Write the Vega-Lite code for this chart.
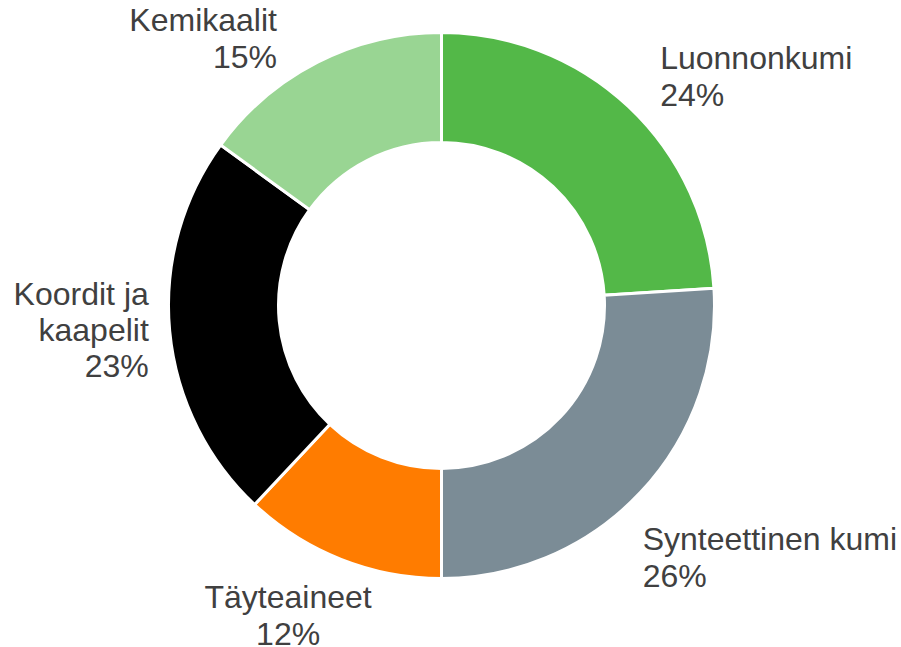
{
  "$schema": "https://vega.github.io/schema/vega-lite/v6.json",
  "width": 883,
  "height": 611,
  "autosize": {"type": "none"},
  "padding": {"left": 0, "right": 18, "top": 0, "bottom": 36},
  "background": "white",
  "config": {"view": {"stroke": null}},
  "data": {
    "values": [
      {"cat": "Luonnonkumi", "value": 24, "order": 1, "label": ["Luonnonkumi", "24%"]},
      {"cat": "Synteettinen kumi", "value": 26, "order": 2, "label": ["Synteettinen kumi", "26%"]},
      {"cat": "Täyteaineet", "value": 12, "order": 3, "label": ["Täyteaineet", "12%"]},
      {"cat": "Koordit ja kaapelit", "value": 23, "order": 4, "label": ["Koordit ja", "kaapelit", "23%"]},
      {"cat": "Kemikaalit", "value": 15, "order": 5, "label": ["Kemikaalit", "15%"]}
    ]
  },
  "transform": [
    {"window": [{"op": "sum", "field": "value", "as": "cum"}], "sort": [{"field": "order"}], "frame": [null, 0]},
    {"calculate": "datum.cum - datum.value / 2", "as": "mid"}
  ],
  "layer": [
    {
      "mark": {"type": "arc", "outerRadius": 273, "innerRadius": 163, "stroke": "white", "strokeWidth": 3},
      "encoding": {
        "theta": {"field": "value", "type": "quantitative", "stack": true, "scale": {"domain": [0, 100]}},
        "order": {"field": "order", "type": "quantitative"},
        "color": {
          "field": "cat", "type": "nominal", "legend": null,
          "scale": {
            "domain": ["Luonnonkumi", "Synteettinen kumi", "Täyteaineet", "Koordit ja kaapelit", "Kemikaalit"],
            "range": ["#53B848", "#7B8C96", "#FF7C00", "#000000", "#99D593"]
          }
        }
      }
    },
    {
      "transform": [{"filter": "datum.cat == 'Luonnonkumi'"}],
      "mark": {"type": "text", "radius": 318, "dx": 1, "dy": -15, "align": "left", "baseline": "middle", "font": "Liberation Sans", "fontSize": 32, "lineHeight": 37, "color": "#404040"},
      "encoding": {"theta": {"field": "mid", "type": "quantitative", "stack": null}, "text": {"field": "label"}}
    },
    {
      "transform": [{"filter": "datum.cat == 'Synteettinen kumi'"}],
      "mark": {"type": "text", "radius": 324, "dx": -35, "dy": 13, "align": "left", "baseline": "middle", "font": "Liberation Sans", "fontSize": 32, "lineHeight": 37, "color": "#404040"},
      "encoding": {"theta": {"field": "mid", "type": "quantitative", "stack": null}, "text": {"field": "label"}}
    },
    {
      "transform": [{"filter": "datum.cat == 'Täyteaineet'"}],
      "mark": {"type": "text", "radius": 346, "dx": -26, "dy": -29, "align": "center", "baseline": "middle", "font": "Liberation Sans", "fontSize": 32, "lineHeight": 37, "color": "#404040"},
      "encoding": {"theta": {"field": "mid", "type": "quantitative", "stack": null}, "text": {"field": "label"}}
    },
    {
      "transform": [{"filter": "datum.cat == 'Koordit ja kaapelit'"}],
      "mark": {"type": "text", "radius": 294, "dy": -38, "align": "right", "baseline": "middle", "font": "Liberation Sans", "fontSize": 32, "lineHeight": 36, "color": "#404040"},
      "encoding": {"theta": {"field": "mid", "type": "quantitative", "stack": null}, "text": {"field": "label"}}
    },
    {
      "transform": [{"filter": "datum.cat == 'Kemikaalit'"}],
      "mark": {"type": "text", "radius": 314, "dx": -22, "dy": -5, "align": "right", "baseline": "middle", "font": "Liberation Sans", "fontSize": 32, "lineHeight": 37, "color": "#404040"},
      "encoding": {"theta": {"field": "mid", "type": "quantitative", "stack": null}, "text": {"field": "label"}}
    }
  ]
}
